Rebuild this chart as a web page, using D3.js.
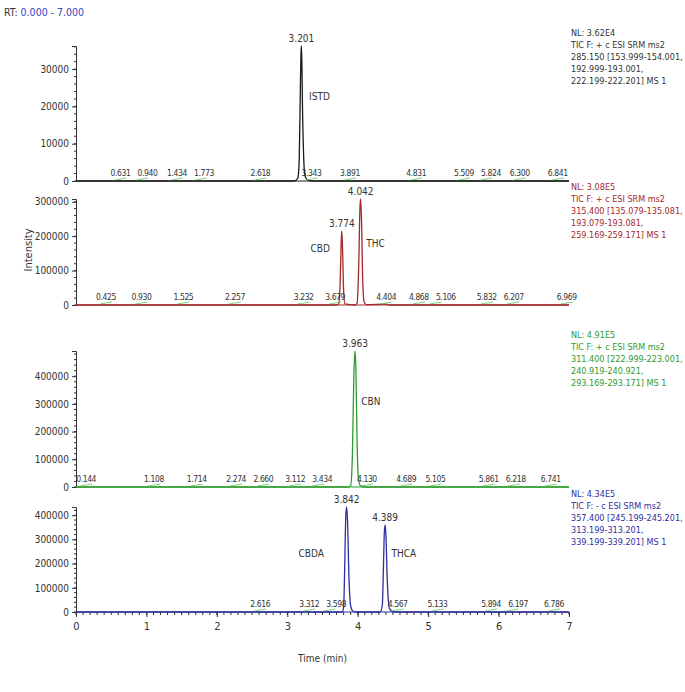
<!DOCTYPE html>
<html>
<head>
<meta charset="utf-8">
<script src="https://cdn.jsdelivr.net/npm/d3@7"></script>
<style>
  body { margin:0; background:#fff; }
  text { font-family:"DejaVu Sans Condensed","Liberation Sans Narrow","Liberation Sans",Arial,sans-serif; }
</style>
</head>
<body>
<script>
// ---- data ----
var traceISTD = [[0,0],[3.10,0],[3.15,800],[3.17,6000],[3.185,24000],[3.195,34500],[3.201,36200],[3.208,31000],[3.215,21000],[3.23,8000],[3.25,1500],[3.28,400],[3.35,0],[7,0]];
var traceTHC = [[0,0],[3.69,0],[3.73,3000],[3.75,60000],[3.765,180000],[3.774,215000],[3.785,160000],[3.80,40000],[3.82,3000],[3.96,0],[3.99,5000],[4.015,120000],[4.032,285000],[4.042,308000],[4.055,240000],[4.07,80000],[4.09,10000],[4.12,1000],[4.40,2500],[4.45,0],[7,0]];
var traceCBN = [[0,0],[3.86,0],[3.90,5000],[3.925,120000],[3.945,400000],[3.963,491000],[3.975,420000],[3.99,180000],[4.01,30000],[4.04,4000],[4.10,0],[7,0]];
var traceCBDA = [[0,0],[3.78,0],[3.80,20000],[3.815,180000],[3.83,390000],[3.842,434000],[3.855,380000],[3.875,150000],[3.90,25000],[3.93,4000],[3.98,0],[4.32,0],[4.35,30000],[4.365,180000],[4.378,330000],[4.389,360000],[4.40,320000],[4.42,130000],[4.45,15000],[4.50,1000],[4.56,0],[7,0]];

var peakLabels1 = [0.631,0.940,1.434,1.773,2.618,3.343,3.891,4.831,5.509,5.824,6.300,6.841];
var peakLabels2 = [0.425,0.930,1.525,2.257,3.232,3.679,4.404,4.868,5.106,5.832,6.207,6.969];
var peakLabels3 = [0.144,1.108,1.714,2.274,2.660,3.112,3.434,4.130,4.689,5.105,5.861,6.218,6.741];
var peakLabels4 = [2.616,3.312,3.598,4.567,5.133,5.894,6.197,6.786];

var nlValues = [3.62e4, 3.08e5, 4.91e5, 4.34e5];
var yTicks = [[0,10000,20000,30000],[0,100000,200000,300000],[0,100000,200000,300000,400000],[0,100000,200000,300000,400000]];
var xTicks = [0,1,2,3,4,5,6,7];

var headers = [
  ["NL: 3.62E4","TIC F: + c ESI SRM ms2","285.150 [153.999-154.001,","192.999-193.001,","222.199-222.201]  MS 1"],
  ["NL: 3.08E5","TIC F: + c ESI SRM ms2","315.400 [135.079-135.081,","193.079-193.081,","259.169-259.171]  MS 1"],
  ["NL: 4.91E5","TIC F: + c ESI SRM ms2","311.400 [222.999-223.001,","240.919-240.921,","293.169-293.171]  MS 1"],
  ["NL: 4.34E5","TIC F: - c ESI SRM ms2","357.400 [245.199-245.201,","313.199-313.201,","339.199-339.201]  MS 1"]
];

// ---- layout ----
var width = 685, height = 692;
var svg = d3.select('body').append('svg').attr('width', width).attr('height', height);
var x = d3.scaleLinear().domain([0, 7]).range([76, 569]);

var panels = [
  {trace: traceISTD, labels: peakLabels1, top: 46,  bottom: 181, head: 36, color: '#1a1a1a', textColor: '#333',
   main: [[3.201,'3.201']], names: [['ISTD', 3.31, 0.6]]},
  {trace: traceTHC, labels: peakLabels2, top: 199, bottom: 305, head: 190, color: '#a3282c', textColor: '#a3282c',
   main: [[3.774,'3.774'],[4.042,'4.042']], names: [['CBD', 3.33, 0.5],['THC', 4.12, 0.55]]},
  {trace: traceCBN, labels: peakLabels3, top: 351, bottom: 487, head: 338, color: '#2e9a2e', textColor: '#2e9a2e',
   main: [[3.963,'3.963']], names: [['CBN', 4.05, 0.6]]},
  {trace: traceCBDA, labels: peakLabels4, top: 507, bottom: 612, head: 497, color: '#2e2ea0', textColor: '#2e2ea0',
   main: [[3.842,'3.842'],[4.389,'4.389']], names: [['CBDA', 3.16, 0.52],['THCA', 4.48, 0.52]]}
];

svg.append('text').attr('x', 4).attr('y', 16).attr('font-size', 10.5).attr('fill', '#333').text('RT: ')
  .append('tspan').attr('fill', '#3344bb').text('0.000 - 7.000');

panels.forEach(function(p, i) {
  var y = d3.scaleLinear().domain([0, nlValues[i]]).range([p.bottom, p.top]);
  var g = svg.append('g');

  // y axis
  var yAx = d3.axisLeft(y).tickValues(yTicks[i]).tickFormat(d3.format('d')).tickSize(4);
  var ga = g.append('g').attr('transform', 'translate(' + x(0) + ',0)').call(yAx);
  ga.select('.domain').attr('stroke', '#333');
  ga.selectAll('.tick line').attr('stroke', '#333');
  ga.selectAll('text').attr('font-size', 10).attr('fill', '#333');
  var step = yTicks[i][1] / 5;
  var minor = d3.range(0, nlValues[i] + 1e-9, step);
  g.selectAll('.ym').data(minor).enter().append('line')
    .attr('x1', x(0) - 2).attr('x2', x(0)).attr('y1', d => y(d)).attr('y2', d => y(d)).attr('stroke', '#333');

  // baseline
  g.append('line').attr('x1', x(0)).attr('x2', x(7)).attr('y1', p.bottom).attr('y2', p.bottom)
    .attr('stroke', p.color).attr('stroke-width', 1.2);

  // trace
  var line = d3.line().x(d => x(d[0])).y(d => y(d[1])).curve(d3.curveMonotoneX);
  g.append('path').datum(p.trace).attr('d', line).attr('fill', 'none')
    .attr('stroke', p.color).attr('stroke-width', 1.3);

  // small peak labels + green marks (labels pushed apart so they don't collide)
  var lastX = -1e9;
  p.labels.forEach(function(t) {
    var lx = Math.max(x(t), lastX + 27);
    lastX = lx;
    g.append('text').attr('x', lx).attr('y', p.bottom - 5).attr('text-anchor', 'middle')
      .attr('font-size', 8.5).attr('letter-spacing', -0.4).attr('fill', '#333').text(t.toFixed(3));
    g.append('path').attr('d', 'M' + (x(t) - 6) + ',' + (p.bottom - 1) + 'L' + (x(t) + 6) + ',' + (p.bottom - 3))
      .attr('stroke', '#5cc85c').attr('stroke-width', 0.8).attr('fill', 'none');
  });

  // main peak labels
  p.main.forEach(function(m) {
    var h = d3.max(p.trace.filter(d => Math.abs(d[0] - m[0]) < 0.001), d => d[1]);
    g.append('text').attr('x', x(m[0])).attr('y', y(h) - 4).attr('text-anchor', 'middle')
      .attr('font-size', 10).attr('fill', '#333').text(m[1]);
  });
  p.names.forEach(function(n) {
    g.append('text').attr('x', x(n[1])).attr('y', y(nlValues[i] * n[2])).attr('font-size', 10)
      .attr('fill', '#333').text(n[0]);
  });

  // header on right
  headers[i].forEach(function(s, k) {
    svg.append('text').attr('x', 571).attr('y', p.head + k * 12)
      .attr('font-size', 9).attr('fill', p.textColor).text(s);
  });
});

// x axis
var xg = svg.append('g').attr('transform', 'translate(0,612)')
  .call(d3.axisBottom(x).tickValues(xTicks).tickSize(5).tickFormat(d3.format('d')));
xg.select('.domain').remove();
xg.selectAll('.tick line').attr('stroke', '#333');
xg.selectAll('text').attr('font-size', 11).attr('fill', '#333').attr('dy', '0.9em');
svg.selectAll('.xm').data(d3.range(0, 7.001, 0.1)).enter().append('line')
  .attr('x1', d => x(d)).attr('x2', d => x(d)).attr('y1', 612).attr('y2', 615).attr('stroke', '#333');

svg.append('text').attr('x', x(3.5)).attr('y', 662).attr('text-anchor', 'middle')
  .attr('font-size', 10).attr('fill', '#333').text('Time (min)');
svg.append('text').attr('transform', 'translate(32,250) rotate(-90)').attr('text-anchor', 'middle')
  .attr('font-size', 11).attr('fill', '#333').text('Intensity');
</script>
</body>
</html>
